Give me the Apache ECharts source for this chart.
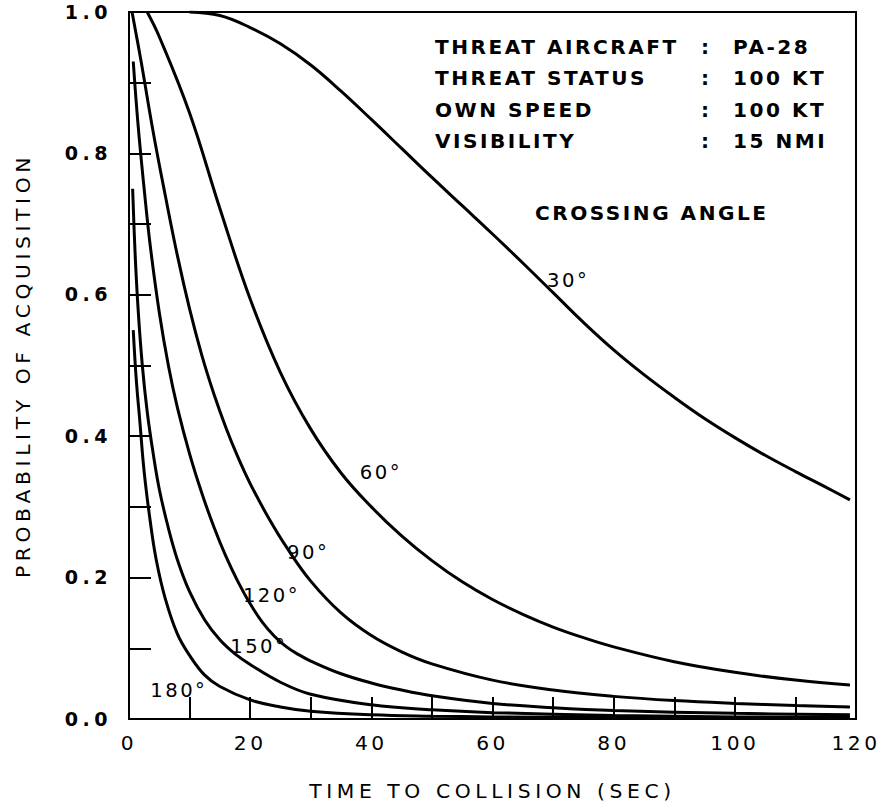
<!DOCTYPE html>
<html>
<head>
<meta charset="utf-8">
<script src="https://cdn.jsdelivr.net/npm/echarts@6/dist/echarts.min.js"></script>
<style>
  html, body { margin: 0; padding: 0; background: #fff; }
  #chart { width: 895px; height: 809px; }
  /* letter spacing of the hand-lettered original, keyed on the font size of each text group */
  #chart text[style*="20.1px"] { letter-spacing: 2.5px; }   /* info block */
  #chart text[style*="19.1px"] { letter-spacing: 4.5px; }   /* y tick labels */
  #chart text[style*="20.2px"] { letter-spacing: 3.5px; }   /* x tick labels */
  #chart text[style*="19.6px"] { letter-spacing: 2.5px; }   /* curve labels */
  #chart text[style*="20.3px"] { letter-spacing: 4.6px; }   /* axis titles */
</style>
</head>
<body>
<div id="chart"></div>
<script>
// Time to collision (s) and probability of acquisition, one pair of arrays per crossing angle
const t30 = [10, 15, 20, 25, 30, 35, 40, 45, 50, 55, 60, 65, 70, 75, 80, 85, 90, 95, 100, 105, 110, 115, 119];
const p30 = [1.0, 0.995, 0.978, 0.955, 0.925, 0.888, 0.848, 0.807, 0.766, 0.726, 0.686, 0.645, 0.603, 0.561, 0.522, 0.487, 0.455, 0.425, 0.398, 0.373, 0.35, 0.328, 0.31];

const t60 = [3, 5, 10, 15, 20, 25, 30, 35, 40, 45, 50, 55, 60, 65, 70, 75, 80, 90, 100, 110, 119];
const p60 = [1.0, 0.965, 0.857, 0.722, 0.594, 0.49, 0.41, 0.348, 0.3, 0.259, 0.224, 0.194, 0.169, 0.148, 0.13, 0.115, 0.102, 0.081, 0.066, 0.055, 0.048];

const t90 = [0.5, 2, 4, 6, 8, 10, 12, 14, 16, 18, 20, 23, 26, 30, 35, 40, 45, 50, 60, 70, 80, 90, 100, 110, 119];
const p90 = [1.0, 0.93, 0.83, 0.74, 0.655, 0.58, 0.515, 0.46, 0.412, 0.37, 0.333, 0.285, 0.243, 0.195, 0.15, 0.118, 0.095, 0.078, 0.055, 0.041, 0.032, 0.026, 0.022, 0.019, 0.017];

const t120 = [0.7, 1.5, 2.5, 3.5, 5, 6.5, 8, 10, 12, 14, 16, 18, 20, 22, 24, 26, 28, 30, 35, 40, 45, 50, 60, 70, 80, 100, 119];
const p120 = [0.93, 0.84, 0.75, 0.67, 0.575, 0.5, 0.44, 0.375, 0.32, 0.272, 0.23, 0.194, 0.163, 0.137, 0.117, 0.102, 0.091, 0.082, 0.064, 0.051, 0.041, 0.033, 0.022, 0.016, 0.012, 0.008, 0.006];

const t150 = [0.6, 1, 1.5, 2.2, 3, 4, 5, 6.5, 8, 10, 12.5, 15, 17.5, 20, 25, 30, 40, 50, 60, 80, 100, 119];
const p150 = [0.75, 0.66, 0.58, 0.5, 0.435, 0.375, 0.325, 0.27, 0.225, 0.18, 0.14, 0.112, 0.092, 0.077, 0.052, 0.035, 0.02, 0.013, 0.009, 0.005, 0.003, 0.002];

const t180 = [0.7, 1.2, 1.8, 2.5, 3.5, 4.5, 6, 8, 10, 12.5, 15, 20, 25, 30, 40, 50, 60, 80, 100, 119];
const p180 = [0.55, 0.48, 0.42, 0.35, 0.28, 0.225, 0.17, 0.12, 0.09, 0.062, 0.046, 0.027, 0.017, 0.011, 0.006, 0.004, 0.003, 0.002, 0.001, 0.001];

// Curve labels: text and data-space anchor (left edge, vertical middle)
const curveNames = ['30°', '60°', '90°', '120°', '150°', '180°'];
const labelT = [69, 38.1, 26.1, 18.8, 16.7, 3.5];
const labelP = [0.62, 0.348, 0.236, 0.174, 0.102, 0.041];

// Annotation block
const infoKeys = ['THREAT AIRCRAFT', 'THREAT STATUS', 'OWN SPEED', 'VISIBILITY'];
const infoVals = ['PA-28', '100 KT', '100 KT', '15 NMI'];
const legendTitle = 'CROSSING ANGLE';

const xTitle = 'TIME TO COLLISION (SEC)';
const yTitle = 'PROBABILITY OF ACQUISITION';

const FONT = '"DejaVu Sans", sans-serif';

const times = [t30, t60, t90, t120, t150, t180];
const probs = [p30, p60, p90, p120, p150, p180];

const series = curveNames.map((name, i) => ({
  name: name,
  type: 'line',
  smooth: 0.4,
  showSymbol: false,
  symbol: 'none',
  lineStyle: { color: '#000', width: 3 },
  data: times[i].map((t, k) => [t, probs[i][k]]),
  markPoint: {
    symbol: 'circle',
    symbolSize: 0,
    itemStyle: { color: 'transparent' },
    label: {
      show: true, position: 'right', distance: 0,
      formatter: name, color: '#000', fontFamily: FONT, fontSize: 19.6
    },
    data: [{ coord: [labelT[i], labelP[i]], name: name }]
  },
  z: 3
}));

const infoStyle = { fill: '#000', fontFamily: FONT, fontSize: 20.1, fontWeight: 'bold' };
const graphic = [];
const rowY = [37, 68, 100, 131];
infoKeys.forEach((k, i) => {
  graphic.push({ type: 'text', left: 435, top: rowY[i], style: Object.assign({ text: k }, infoStyle) });
  graphic.push({ type: 'text', left: 701, top: rowY[i], style: Object.assign({ text: ':' }, infoStyle) });
  graphic.push({ type: 'text', left: 733, top: rowY[i], style: Object.assign({ text: infoVals[i] }, infoStyle) });
});
graphic.push({ type: 'text', left: 535, top: 203, style: Object.assign({ text: legendTitle }, infoStyle) });

const chart = echarts.init(document.getElementById('chart'), null, { renderer: 'svg' });
chart.setOption({
  animation: false,
  backgroundColor: '#fff',
  grid: { left: 129, right: 39, top: 12, bottom: 90, show: true, borderColor: '#000', borderWidth: 2, backgroundColor: 'transparent' },
  xAxis: {
    type: 'value', min: 0, max: 120, interval: 10,
    name: xTitle, nameLocation: 'middle', nameGap: 62,
    nameTextStyle: { color: '#000', fontFamily: FONT, fontSize: 20.3 },
    axisLine: { show: true, lineStyle: { color: '#000', width: 2 } },
    axisTick: { show: true, inside: true, length: 22, lineStyle: { color: '#000', width: 2 } },
    axisLabel: { color: '#000', fontFamily: FONT, fontSize: 20.2, margin: 14,
      formatter: v => (Math.round(v) % 20 === 0 ? String(Math.round(v)) : '') },
    splitLine: { show: false }
  },
  yAxis: {
    type: 'value', min: 0, max: 1, interval: 0.1,
    name: yTitle, nameLocation: 'middle', nameGap: 96, nameRotate: 90,
    nameTextStyle: { color: '#000', fontFamily: FONT, fontSize: 20.3 },
    axisLine: { show: true, lineStyle: { color: '#000', width: 2 } },
    axisTick: { show: true, inside: true, length: 22, lineStyle: { color: '#000', width: 2 } },
    axisLabel: { color: '#000', fontFamily: FONT, fontSize: 19.1, fontWeight: 'bold', margin: 17,
      formatter: v => (Math.round(v * 10) % 2 === 0 ? v.toFixed(1) : '') },
    splitLine: { show: false }
  },
  graphic: graphic,
  series: series
});
</script>
</body>
</html>
